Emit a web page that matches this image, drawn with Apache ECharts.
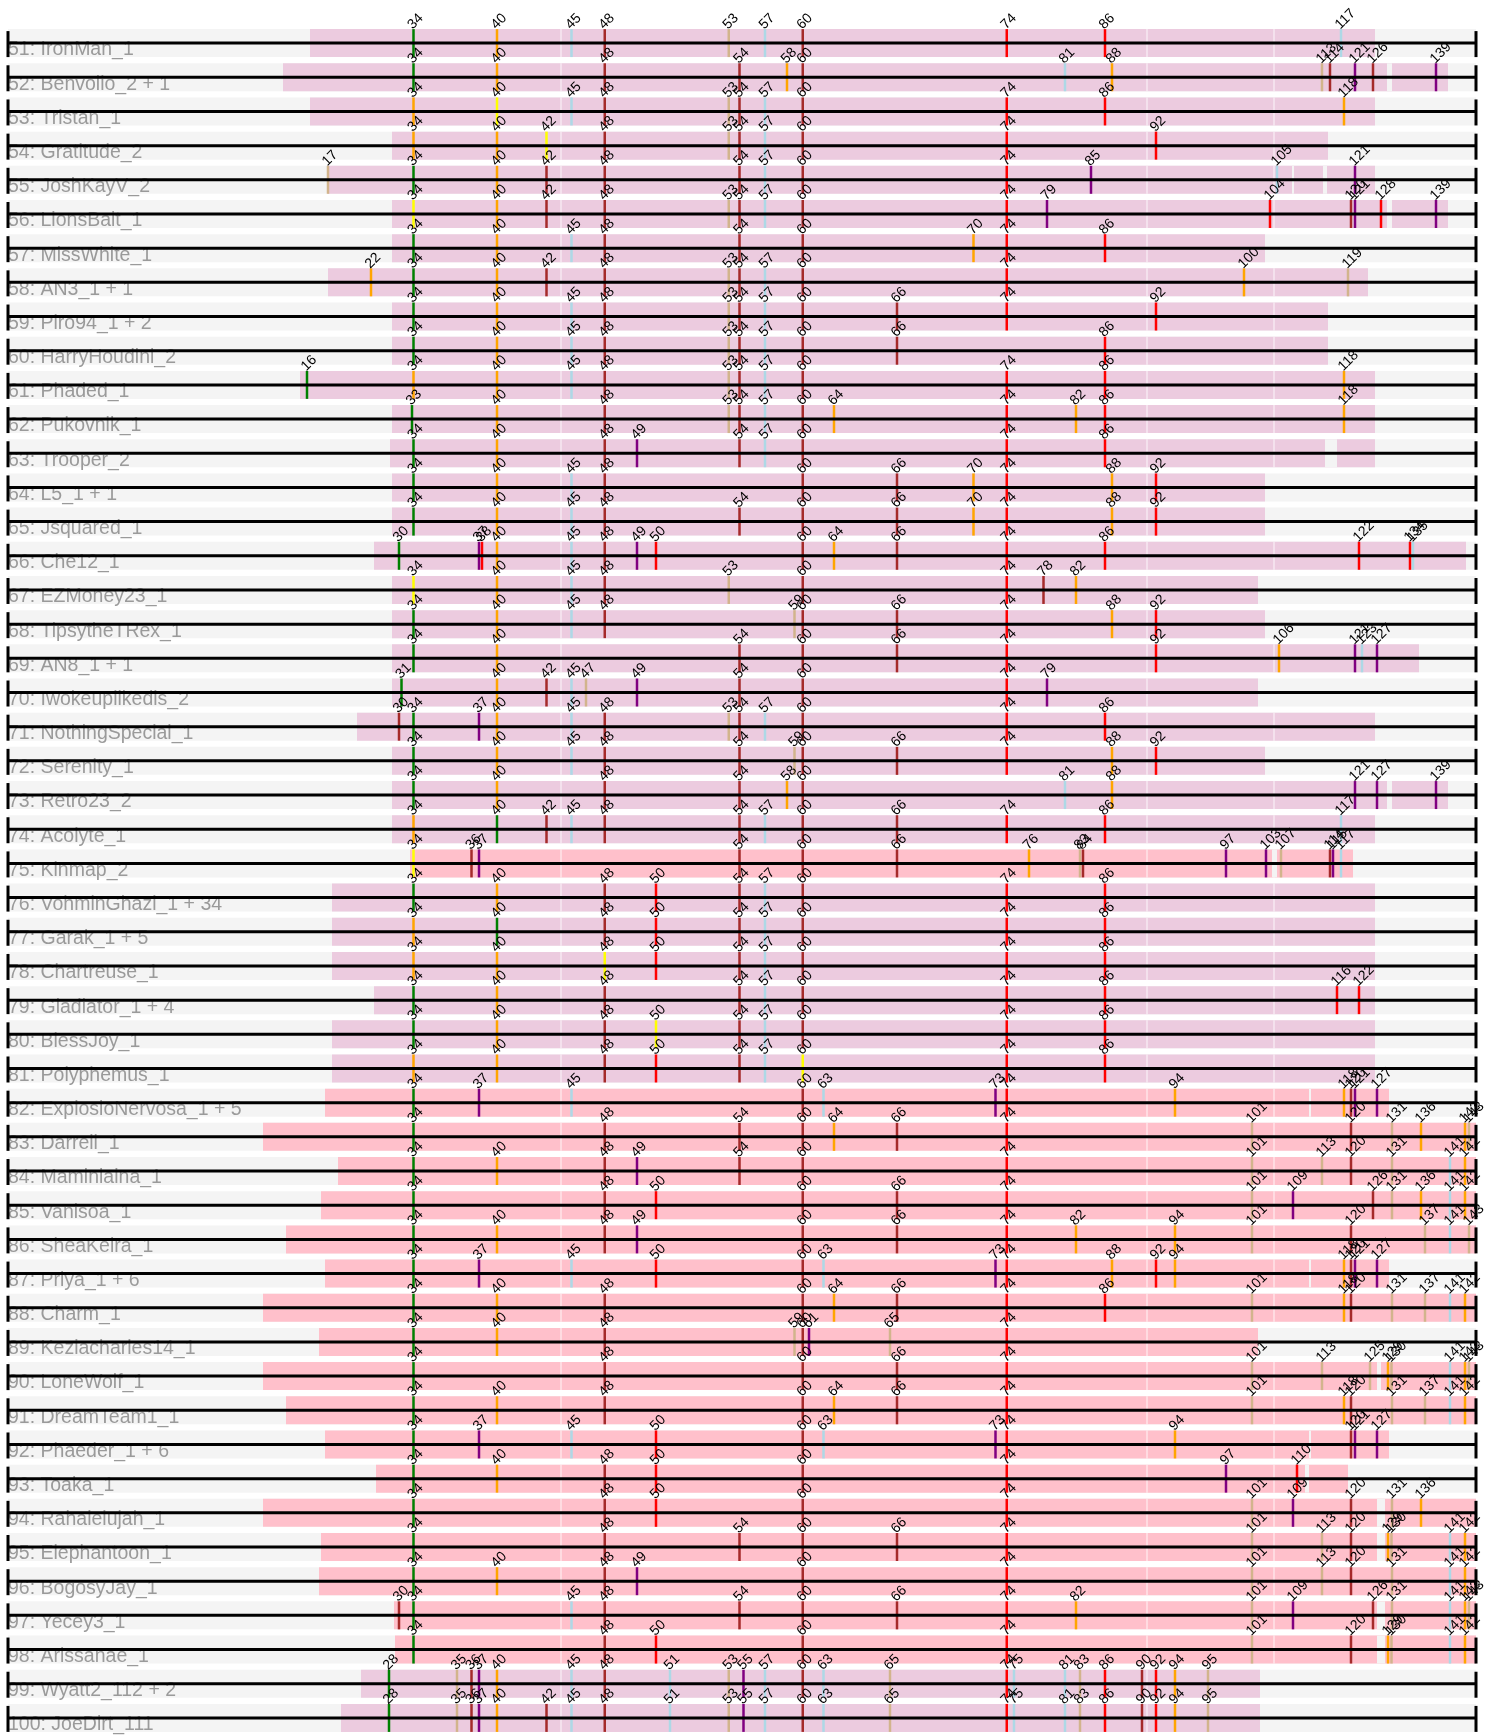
<!DOCTYPE html>
<html><head><meta charset="utf-8">
<script src="https://cdn.jsdelivr.net/npm/echarts@6/dist/echarts.min.js"></script>
<style>html,body{margin:0;padding:0;background:#fff}#c{width:1492px;height:1735px}</style>
</head><body><div id="c"></div><script>
// genome map units (bp)
const GENOME_LEN = 58720;
const geneIds = [16,17,22,28,30,31,33,34,35,36,37,38,40,42,45,47,48,49,50,51,53,54,55,57,58,59,60,61,63,64,65,66,70,73,74,75,76,78,79,81,82,83,84,85,86,88,90,92,94,95,97,100,101,103,104,105,106,107,109,110,113,114,115,116,117,118,119,120,121,122,123,125,126,127,128,129,130,131,134,135,136,137,139,141,142,143];
const genePos = [11960,12800,14520,15240,15640,15740,16160,16220,17960,18540,18840,18960,19560,21540,22540,23120,23870,25160,25920,26480,28830,29260,29420,30280,31160,31460,31790,32040,32620,33040,35280,35560,38620,39500,39950,40240,40840,41420,41560,42280,42720,42880,43000,43320,43880,44160,45360,45920,46680,48000,48720,49440,49760,50320,50480,50760,50840,50920,51400,51560,52560,52880,53000,53160,53320,53440,53600,53720,53880,54040,54160,54480,54600,54760,54920,55200,55340,55360,56080,56200,56520,56680,57120,57680,58280,58440];

const rowNames = ["51: IronMan_1","52: Benvolio_2 + 1","53: Tristan_1","54: Gratitude_2","55: JoshKayV_2","56: LionsBait_1","57: MissWhite_1","58: AN3_1 + 1","59: Piro94_1 + 2","60: HarryHoudini_2",
"61: Phaded_1","62: Pukovnik_1","63: Trooper_2","64: L5_1 + 1","65: Jsquared_1","66: Che12_1","67: EZMoney23_1","68: TipsytheTRex_1","69: AN8_1 + 1","70: Iwokeuplikedis_2",
"71: NothingSpecial_1","72: Serenity_1","73: Retro23_2","74: Acolyte_1","75: Kinmap_2","76: VohminGhazi_1 + 34","77: Garak_1 + 5","78: Chartreuse_1","79: Gladiator_1 + 4","80: BlessJoy_1",
"81: Polyphemus_1","82: ExplosioNervosa_1 + 5","83: Darrell_1","84: Maminiaina_1","85: Vanisoa_1","86: SheaKeira_1","87: Priya_1 + 6","88: Charm_1","89: Keziacharles14_1","90: LoneWolf_1",
"91: DreamTeam1_1","92: Phaeder_1 + 6","93: Toaka_1","94: Rahalelujah_1","95: Elephantoon_1","96: BogosyJay_1","97: Yecey3_1","98: Arissanae_1","99: Wyatt2_112 + 2","100: JoeDirt_111"];

const bandStart = [12080,11000,12080,15360,12800,15360,15360,12800,15360,15360,
11680,15360,15280,15360,15360,14640,15360,15360,15360,15360,
13960,15360,15360,15360,16080,12960,12960,12960,14640,12960,
12960,12680,10200,13200,12520,11120,12680,10200,12440,10200,
11120,12680,14720,10200,12520,12440,15440,15480,14120,13320];
const bandEnd = [54680,57600,54680,52800,54680,57600,50280,54400,52800,52800,
54680,54680,54680,50280,50280,58320,50000,50280,56440,50000,
54680,50280,57600,54680,53800,54680,54680,54680,54680,54680,
54680,55240,58720,58720,58720,58720,55240,58720,50000,58720,
58720,55240,53600,58720,58720,58720,58720,58720,50080,50080];
// band kind: L = light mauve, P = pink
const bandKind = "LLLLLLLLLLLLLLLLLLLLLLLLPLLLLLLPPPPPPPPPPPPPPPPPLL";

// gene markers per row: number + colour letter
const rowGenes = [
"34g 40o 45b 48d 53t 57b 60d 74r 86r 117b",
"34g 40o 48d 54d 58o 60d 81b 88o 113t 114d 121p 126d 139p",
"34o 40y 45b 48d 53t 54d 57b 60d 74r 86r 118o",
"34o 40o 42y 48d 53t 54d 57b 60d 74r 92r",
"17t 34g 40o 42d 48d 54d 57b 60d 74r 85p 105b 121p",
"34y 40o 42d 48d 53t 54d 57b 60d 74r 79p 104r 120d 121p 128r 139p",
"34g 40o 45b 48d 54d 60d 70o 74r 86r",
"22o 34g 40o 42d 48d 53t 54d 57b 60d 74r 100o 119t",
"34g 40o 45b 48d 53t 54d 57b 60d 66d 74r 92r",
"34g 40o 45b 48d 53t 54d 57b 60d 66d 86r",
"16g 34o 40o 45b 48d 53t 54d 57b 60d 74r 86r 118o",
"33g 40o 48d 53t 54d 57b 60d 64o 74r 82o 86r 118o",
"34g 40o 48d 49p 54d 57b 60d 74r 86r",
"34g 40o 45b 48d 60d 66d 70o 74r 88o 92r",
"34g 40o 45b 48d 54d 60d 66d 70o 74r 88o 92r",
"30g 37p 38r 40o 45b 48d 49p 50r 60d 64o 66d 74r 86r 122r 134r 135b",
"34y 40o 45b 48d 53t 60d 74r 78d 82o",
"34g 40o 45b 48d 59t 60d 66d 74r 88o 92r",
"34g 40o 54d 60d 66d 74r 92r 106o 121p 123b 127p",
"31g 40o 42d 45b 47t 49p 54d 60d 74r 79p",
"30d 34g 37p 40o 45b 48d 53t 54d 57b 60d 74r 86r",
"34g 40o 45b 48d 54d 59t 60d 66d 74r 88o 92r",
"34g 40o 48d 54d 58o 60d 81b 88o 121p 127p 139p",
"34o 40g 42d 45b 48d 54d 57b 60d 66d 74r 86r 117b",
"34y 36d 37p 54d 60d 66d 76o 83t 84d 97p 103p 107t 114d 115p 117b",
"34g 40o 48d 50r 54d 57b 60d 74r 86r",
"34o 40g 48d 50r 54d 57b 60d 74r 86r",
"34o 40o 48y 50r 54d 57b 60d 74r 86r",
"34g 40o 48d 54d 57b 60d 74r 86r 116r 122r",
"34g 40o 48d 50y 54d 57b 60d 74r 86r",
"34o 40o 48d 50r 54d 57b 60y 74r 86r",
"34g 37p 45b 60d 63b 73p 74r 94o 118o 120d 121p 127p",
"34g 48d 54d 60d 64o 66d 74r 101t 120d 131t 136o 142o 143t",
"34g 40o 48d 49p 54d 60d 74r 101t 113t 120d 131t 141b 142o",
"34g 48d 50r 60d 66d 74r 101t 109p 126d 131t 136o 141b 142o",
"34g 40o 48d 49p 60d 66d 74r 82o 94o 101t 120d 137t 141b 143t",
"34g 37p 45b 50r 60d 63b 73p 74r 88o 92r 94o 118o 120d 121p 127p",
"34g 40o 48d 60d 64o 66d 74r 86r 101t 118o 120d 131t 137t 141b 142o",
"34g 40o 48d 59t 60d 61p 65t 74r",
"34g 48d 60d 66d 74r 101t 113t 125t 129o 130t 141b 142o 143t",
"34g 40o 48d 60d 64o 66d 74r 101t 118o 120d 131t 137t 141b 142o",
"34g 37p 45b 50r 60d 63b 73p 74r 94o 120d 121p 127p",
"34g 40o 48d 50r 60d 74r 97p 110r",
"34g 48d 50r 60d 74r 101t 109p 120d 131t 136o",
"34g 48d 54d 60d 66d 74r 101t 113t 120d 129o 130t 141b 142o",
"34g 40o 48d 49p 60d 74r 101t 113t 120d 131t 141b 142o",
"30d 34g 45b 48d 54d 60d 66d 74r 82o 101t 109p 126d 131t 141b 142o 143t",
"34g 48d 50r 60d 74r 101t 120d 129o 130t 141b 142o",
"28g 35t 36d 37p 40o 45b 48d 51b 53t 55p 57b 60d 63b 65t 74r 75b 81b 83t 86r 90d 92r 94o 95t",
"28g 35t 36d 37p 40o 42d 45b 48d 51b 53t 55p 57b 60d 63b 65t 74r 75b 81b 83t 86r 90d 92r 94o 95t"];

// notable white gaps inside the bands (bp ranges), by row index
const rowGaps = {1:[[55160,55360]],4:[[51360,51440],[52600,52760]],5:[[55160,55360]],12:[[52680,53160]],22:[[55160,55360]],
24:[[50560,50760]],31:[[52040,52120]],36:[[52040,52120]],39:[[54760,54920]],41:[[52040,52120]],42:[[51880,52040]],
43:[[54760,55080]],44:[[54760,55080]],46:[[54760,55080]],47:[[54760,55080]]};
const separators = [22120, 45560, 50640];

const colorMap = {g:'#008000', o:'#FFA500', r:'#FF0000', d:'#A52A2A', b:'#ADD8E6', t:'#D2B48C', p:'#800080', y:'#FFFF00'};
const bandColors = {L:'#ECCBDF', P:'#FFC0CB'};

const posOf = {};
geneIds.forEach((g, k) => { posOf[g] = genePos[k]; });

const FONT = '"Liberation Sans", Arial, Helvetica, sans-serif';

function renderItem(params, api) {
  const i = params.dataIndex;
  const yc = api.coord([0, i])[1];
  const X = v => api.coord([v, i])[0];
  const x0 = X(0), x1 = X(GENOME_LEN);
  const H = 14;
  const ch = [];
  ch.push({type:'rect', shape:{x:x0, y:yc-H, width:x1-x0, height:2*H}, style:{fill:'#F4F4F4'}});
  const bs = X(bandStart[i]), be = X(bandEnd[i]);
  ch.push({type:'rect', shape:{x:bs, y:yc-H, width:be-bs, height:2*H}, style:{fill:bandColors[bandKind[i]]}});
  separators.forEach(s => {
    if (s > bandStart[i] && s < bandEnd[i]) {
      const xs = X(s);
      ch.push({type:'rect', shape:{x:xs-0.5, y:yc-H, width:1, height:2*H}, style:{fill:'rgba(255,255,255,0.85)'}});
    }
  });
  (rowGaps[i] || []).forEach(g => {
    const a = X(g[0]), b = X(g[1]);
    ch.push({type:'rect', shape:{x:a, y:yc-H, width:Math.max(1,b-a), height:2*H}, style:{fill:'#F4F4F4'}});
  });
  ch.push({type:'text', x:x0, y:yc+7, style:{text:rowNames[i], fill:'#9A9A9A', font:'19.5px '+FONT, align:'left', verticalAlign:'middle', textAlign:'left', textVerticalAlign:'middle'}});
  const genes = rowGenes[i].split(' ');
  genes.forEach(tok => {
    const num = parseInt(tok, 10);
    const c = colorMap[tok.slice(-1)];
    const xm = X(posOf[num]);
    ch.push({type:'rect', shape:{x:xm-1.25, y:yc-H, width:2.5, height:2*H}, style:{fill:c}});
  });
  ch.push({type:'rect', shape:{x:x0, y:yc-1.5, width:x1-x0, height:3}, style:{fill:'#000'}});
  ch.push({type:'rect', shape:{x:x0-1.5, y:yc-12, width:3, height:26}, style:{fill:'#000'}});
  ch.push({type:'rect', shape:{x:x1-1.5, y:yc-12, width:3, height:26}, style:{fill:'#000'}});
  genes.forEach(tok => {
    const num = parseInt(tok, 10);
    const xm = X(posOf[num]);
    ch.push({type:'text', x:xm-3.5, y:yc-H-2, rotation:Math.PI/4,
      style:{text:String(num), fill:'#000', font:'14px '+FONT, align:'left', verticalAlign:'middle', textAlign:'left', textVerticalAlign:'middle'}});
  });
  return {type:'group', children:ch};
}

const chart = echarts.init(document.getElementById('c'), null, {renderer:'canvas'});
chart.setOption({
  animation:false,
  grid:{left:8, right:16, top:26, height:1710, containLabel:false},
  xAxis:{type:'value', min:0, max:GENOME_LEN, show:false},
  yAxis:{type:'value', min:-0.5, max:49.5, inverse:true, show:false},
  series:[{type:'custom', coordinateSystem:'cartesian2d', silent:true, clip:false,
    encode:{x:0, y:1},
    renderItem:renderItem,
    data:rowNames.map((n, i) => [0, i])}]
});
</script></body></html>
